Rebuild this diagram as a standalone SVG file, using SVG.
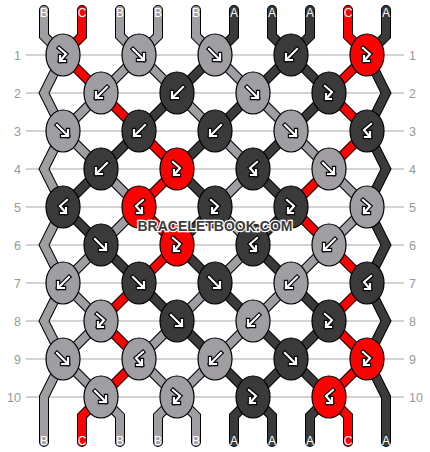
<svg xmlns="http://www.w3.org/2000/svg" width="430" height="452" viewBox="0 0 430 452">
<style>
.grid line{stroke:#c4c4c4;stroke-width:1.5}
.num{font-family:"Liberation Sans",Arial,sans-serif;font-size:12.5px;fill:#999}
.numL{text-anchor:end}
.o{fill:none;stroke:#000;stroke-width:10;stroke-linecap:round;stroke-linejoin:miter}
.f{fill:none;stroke-width:8;stroke-linecap:round;stroke-linejoin:miter}
.sA{stroke:#3a3a3a}.sB{stroke:#a09da3}.sC{stroke:#ff0000}
.k{stroke:#000;stroke-width:1.2}
.kA{fill:#3a3a3a}.kB{fill:#a09da3}.kC{fill:#ff0000}
.ao{fill:none;stroke:#000;stroke-width:4.4;stroke-linecap:square;stroke-linejoin:miter}
.ai{fill:none;stroke:#fff;stroke-width:2.2;stroke-linecap:square;stroke-linejoin:miter}
.lbl{font-family:"Liberation Sans",Arial,sans-serif;font-size:12px;fill:#fff;text-anchor:middle}
.wm{font-family:"Liberation Sans",Arial,sans-serif;font-weight:bold;font-size:14.5px;fill:#3c3c3c;stroke:#fff;stroke-width:2.5;paint-order:stroke;text-anchor:middle}
</style>
<defs>
<g id="f"><path class="ao" d="M-6,-6L5,5M5,-1L5,5L-1,5"/><path class="ai" d="M-6,-6L5,5M5,-1L5,5L-1,5"/></g>
<g id="b"><path class="ao" d="M6,-6L-5,5M-5,-1L-5,5L1,5"/><path class="ai" d="M6,-6L-5,5M-5,-1L-5,5L1,5"/></g>
<g id="fb"><path class="ao" d="M-4,-7L3,-1L-3,6M-3,1L-3,6L2,6"/><path class="ai" d="M-4,-7L3,-1L-3,6M-3,1L-3,6L2,6"/></g>
<g id="bf"><path class="ao" d="M4,-7L-3,-1L3,6M3,1L3,6L-2,6"/><path class="ai" d="M4,-7L-3,-1L3,6M3,1L3,6L-2,6"/></g>
</defs>
<rect width="430" height="452" fill="#fff"/>
<g id="grid" class="grid">
<line x1="26" y1="55" x2="404" y2="55"/><line x1="26" y1="93" x2="404" y2="93"/>
<line x1="26" y1="131" x2="404" y2="131"/><line x1="26" y1="169" x2="404" y2="169"/>
<line x1="26" y1="207" x2="404" y2="207"/><line x1="26" y1="245" x2="404" y2="245"/>
<line x1="26" y1="283" x2="404" y2="283"/><line x1="26" y1="321" x2="404" y2="321"/>
<line x1="26" y1="359" x2="404" y2="359"/><line x1="26" y1="397" x2="404" y2="397"/>
</g>
<g id="row-numbers">
<text class="num numL" x="21" y="59.5">1</text><text class="num" x="409" y="59.5">1</text>
<text class="num numL" x="21" y="97.5">2</text><text class="num" x="409" y="97.5">2</text>
<text class="num numL" x="21" y="135.5">3</text><text class="num" x="409" y="135.5">3</text>
<text class="num numL" x="21" y="173.5">4</text><text class="num" x="409" y="173.5">4</text>
<text class="num numL" x="21" y="211.5">5</text><text class="num" x="409" y="211.5">5</text>
<text class="num numL" x="21" y="249.5">6</text><text class="num" x="409" y="249.5">6</text>
<text class="num numL" x="21" y="287.5">7</text><text class="num" x="409" y="287.5">7</text>
<text class="num numL" x="21" y="325.5">8</text><text class="num" x="409" y="325.5">8</text>
<text class="num numL" x="21" y="363.5">9</text><text class="num" x="409" y="363.5">9</text>
<text class="num numL" x="21" y="401.5">10</text><text class="num" x="409" y="401.5">10</text>
</g>
<g id="connectors">
<g class="o">
<path d="M44,10V36L63,55"/><path d="M82,10V36L63,55"/><path d="M120,10V36L139,55"/><path d="M158,10V36L139,55"/><path d="M196,10V36L215,55"/><path d="M234,10V36L215,55"/><path d="M272,10V36L291,55"/><path d="M310,10V36L291,55"/><path d="M348,10V36L367,55"/><path d="M386,10V36L367,55"/>
<path d="M63,55L101,93"/><path d="M139,55L101,93"/><path d="M139,55L177,93"/><path d="M215,55L177,93"/><path d="M215,55L253,93"/><path d="M291,55L253,93"/><path d="M291,55L329,93"/><path d="M367,55L329,93"/><path d="M63,55L44,93L63,131"/><path d="M367,55L386,93L367,131"/>
<path d="M101,93L63,131"/><path d="M101,93L139,131"/><path d="M177,93L139,131"/><path d="M177,93L215,131"/><path d="M253,93L215,131"/><path d="M253,93L291,131"/><path d="M329,93L291,131"/><path d="M329,93L367,131"/>
<path d="M63,131L101,169"/><path d="M139,131L101,169"/><path d="M139,131L177,169"/><path d="M215,131L177,169"/><path d="M215,131L253,169"/><path d="M291,131L253,169"/><path d="M291,131L329,169"/><path d="M367,131L329,169"/><path d="M63,131L44,169L63,207"/><path d="M367,131L386,169L367,207"/>
<path d="M101,169L63,207"/><path d="M101,169L139,207"/><path d="M177,169L139,207"/><path d="M177,169L215,207"/><path d="M253,169L215,207"/><path d="M253,169L291,207"/><path d="M329,169L291,207"/><path d="M329,169L367,207"/>
<path d="M63,207L101,245"/><path d="M139,207L101,245"/><path d="M139,207L177,245"/><path d="M215,207L177,245"/><path d="M215,207L253,245"/><path d="M291,207L253,245"/><path d="M291,207L329,245"/><path d="M367,207L329,245"/><path d="M63,207L44,245L63,283"/><path d="M367,207L386,245L367,283"/>
<path d="M101,245L63,283"/><path d="M101,245L139,283"/><path d="M177,245L139,283"/><path d="M177,245L215,283"/><path d="M253,245L215,283"/><path d="M253,245L291,283"/><path d="M329,245L291,283"/><path d="M329,245L367,283"/>
<path d="M63,283L101,321"/><path d="M139,283L101,321"/><path d="M139,283L177,321"/><path d="M215,283L177,321"/><path d="M215,283L253,321"/><path d="M291,283L253,321"/><path d="M291,283L329,321"/><path d="M367,283L329,321"/><path d="M63,283L44,321L63,359"/><path d="M367,283L386,321L367,359"/>
<path d="M101,321L63,359"/><path d="M101,321L139,359"/><path d="M177,321L139,359"/><path d="M177,321L215,359"/><path d="M253,321L215,359"/><path d="M253,321L291,359"/><path d="M329,321L291,359"/><path d="M329,321L367,359"/>
<path d="M63,359L101,397"/><path d="M139,359L101,397"/><path d="M139,359L177,397"/><path d="M215,359L177,397"/><path d="M215,359L253,397"/><path d="M291,359L253,397"/><path d="M291,359L329,397"/><path d="M367,359L329,397"/><path d="M63,359L44,397V442"/><path d="M367,359L386,397V442"/>
<path d="M101,397L82,416V442"/><path d="M101,397L120,416V442"/><path d="M177,397L158,416V442"/><path d="M177,397L196,416V442"/><path d="M253,397L234,416V442"/><path d="M253,397L272,416V442"/><path d="M329,397L310,416V442"/><path d="M329,397L348,416V442"/>
</g>
<g class="f">
<path class="sB" d="M44,10V36L63,55"/><path class="sC" d="M82,10V36L63,55"/><path class="sB" d="M120,10V36L139,55"/><path class="sB" d="M158,10V36L139,55"/><path class="sB" d="M196,10V36L215,55"/><path class="sA" d="M234,10V36L215,55"/><path class="sA" d="M272,10V36L291,55"/><path class="sA" d="M310,10V36L291,55"/><path class="sC" d="M348,10V36L367,55"/><path class="sA" d="M386,10V36L367,55"/>
<path class="sC" d="M63,55L101,93"/><path class="sB" d="M139,55L101,93"/><path class="sB" d="M139,55L177,93"/><path class="sA" d="M215,55L177,93"/><path class="sB" d="M215,55L253,93"/><path class="sA" d="M291,55L253,93"/><path class="sA" d="M291,55L329,93"/><path class="sC" d="M367,55L329,93"/><path class="sB" d="M63,55L44,93L63,131"/><path class="sA" d="M367,55L386,93L367,131"/>
<path class="sB" d="M101,93L63,131"/><path class="sC" d="M101,93L139,131"/><path class="sA" d="M177,93L139,131"/><path class="sB" d="M177,93L215,131"/><path class="sA" d="M253,93L215,131"/><path class="sB" d="M253,93L291,131"/><path class="sA" d="M329,93L291,131"/><path class="sC" d="M329,93L367,131"/>
<path class="sB" d="M63,131L101,169"/><path class="sA" d="M139,131L101,169"/><path class="sC" d="M139,131L177,169"/><path class="sA" d="M215,131L177,169"/><path class="sB" d="M215,131L253,169"/><path class="sA" d="M291,131L253,169"/><path class="sB" d="M291,131L329,169"/><path class="sC" d="M367,131L329,169"/><path class="sB" d="M63,131L44,169L63,207"/><path class="sA" d="M367,131L386,169L367,207"/>
<path class="sA" d="M101,169L63,207"/><path class="sB" d="M101,169L139,207"/><path class="sC" d="M177,169L139,207"/><path class="sA" d="M177,169L215,207"/><path class="sB" d="M253,169L215,207"/><path class="sA" d="M253,169L291,207"/><path class="sC" d="M329,169L291,207"/><path class="sB" d="M329,169L367,207"/>
<path class="sA" d="M63,207L101,245"/><path class="sB" d="M139,207L101,245"/><path class="sC" d="M139,207L177,245"/><path class="sA" d="M215,207L177,245"/><path class="sB" d="M215,207L253,245"/><path class="sA" d="M291,207L253,245"/><path class="sC" d="M291,207L329,245"/><path class="sB" d="M367,207L329,245"/><path class="sB" d="M63,207L44,245L63,283"/><path class="sA" d="M367,207L386,245L367,283"/>
<path class="sB" d="M101,245L63,283"/><path class="sA" d="M101,245L139,283"/><path class="sC" d="M177,245L139,283"/><path class="sA" d="M177,245L215,283"/><path class="sB" d="M253,245L215,283"/><path class="sA" d="M253,245L291,283"/><path class="sB" d="M329,245L291,283"/><path class="sC" d="M329,245L367,283"/>
<path class="sB" d="M63,283L101,321"/><path class="sC" d="M139,283L101,321"/><path class="sA" d="M139,283L177,321"/><path class="sB" d="M215,283L177,321"/><path class="sA" d="M215,283L253,321"/><path class="sB" d="M291,283L253,321"/><path class="sA" d="M291,283L329,321"/><path class="sC" d="M367,283L329,321"/><path class="sB" d="M63,283L44,321L63,359"/><path class="sA" d="M367,283L386,321L367,359"/>
<path class="sB" d="M101,321L63,359"/><path class="sC" d="M101,321L139,359"/><path class="sB" d="M177,321L139,359"/><path class="sA" d="M177,321L215,359"/><path class="sB" d="M253,321L215,359"/><path class="sA" d="M253,321L291,359"/><path class="sA" d="M329,321L291,359"/><path class="sC" d="M329,321L367,359"/>
<path class="sB" d="M63,359L101,397"/><path class="sC" d="M139,359L101,397"/><path class="sB" d="M139,359L177,397"/><path class="sB" d="M215,359L177,397"/><path class="sA" d="M215,359L253,397"/><path class="sA" d="M291,359L253,397"/><path class="sA" d="M291,359L329,397"/><path class="sC" d="M367,359L329,397"/><path class="sB" d="M63,359L44,397V442"/><path class="sA" d="M367,359L386,397V442"/>
<path class="sC" d="M101,397L82,416V442"/><path class="sB" d="M101,397L120,416V442"/><path class="sB" d="M177,397L158,416V442"/><path class="sB" d="M177,397L196,416V442"/><path class="sA" d="M253,397L234,416V442"/><path class="sA" d="M253,397L272,416V442"/><path class="sA" d="M329,397L310,416V442"/><path class="sC" d="M329,397L348,416V442"/>
</g>
</g>
<g id="strand-labels">
<text class="lbl" x="44" y="16.5">B</text><text class="lbl" x="82" y="16.5">C</text><text class="lbl" x="120" y="16.5">B</text><text class="lbl" x="158" y="16.5">B</text><text class="lbl" x="196" y="16.5">B</text><text class="lbl" x="234" y="16.5">A</text><text class="lbl" x="272" y="16.5">A</text><text class="lbl" x="310" y="16.5">A</text><text class="lbl" x="348" y="16.5">C</text><text class="lbl" x="386" y="16.5">A</text>
<text class="lbl" x="44" y="444.5">B</text><text class="lbl" x="82" y="444.5">C</text><text class="lbl" x="120" y="444.5">B</text><text class="lbl" x="158" y="444.5">B</text><text class="lbl" x="196" y="444.5">B</text><text class="lbl" x="234" y="444.5">A</text><text class="lbl" x="272" y="444.5">A</text><text class="lbl" x="310" y="444.5">A</text><text class="lbl" x="348" y="444.5">C</text><text class="lbl" x="386" y="444.5">A</text>
</g>
<g id="knots">
<g id="k1-1"><ellipse class="k kB" cx="63" cy="55" rx="17" ry="21"/><use href="#fb" x="63" y="55"/></g>
<g id="k1-2"><ellipse class="k kB" cx="139" cy="55" rx="17" ry="21"/><use href="#f" x="139" y="55"/></g>
<g id="k1-3"><ellipse class="k kB" cx="215" cy="55" rx="17" ry="21"/><use href="#f" x="215" y="55"/></g>
<g id="k1-4"><ellipse class="k kA" cx="291" cy="55" rx="17" ry="21"/><use href="#b" x="291" y="55"/></g>
<g id="k1-5"><ellipse class="k kC" cx="367" cy="55" rx="17" ry="21"/><use href="#fb" x="367" y="55"/></g>
<g id="k2-1"><ellipse class="k kB" cx="101" cy="93" rx="17" ry="21"/><use href="#b" x="101" y="93"/></g>
<g id="k2-2"><ellipse class="k kA" cx="177" cy="93" rx="17" ry="21"/><use href="#b" x="177" y="93"/></g>
<g id="k2-3"><ellipse class="k kB" cx="253" cy="93" rx="17" ry="21"/><use href="#f" x="253" y="93"/></g>
<g id="k2-4"><ellipse class="k kA" cx="329" cy="93" rx="17" ry="21"/><use href="#fb" x="329" y="93"/></g>
<g id="k3-1"><ellipse class="k kB" cx="63" cy="131" rx="17" ry="21"/><use href="#f" x="63" y="131"/></g>
<g id="k3-2"><ellipse class="k kA" cx="139" cy="131" rx="17" ry="21"/><use href="#b" x="139" y="131"/></g>
<g id="k3-3"><ellipse class="k kA" cx="215" cy="131" rx="17" ry="21"/><use href="#b" x="215" y="131"/></g>
<g id="k3-4"><ellipse class="k kB" cx="291" cy="131" rx="17" ry="21"/><use href="#f" x="291" y="131"/></g>
<g id="k3-5"><ellipse class="k kA" cx="367" cy="131" rx="17" ry="21"/><use href="#bf" x="367" y="131"/></g>
<g id="k4-1"><ellipse class="k kA" cx="101" cy="169" rx="17" ry="21"/><use href="#b" x="101" y="169"/></g>
<g id="k4-2"><ellipse class="k kC" cx="177" cy="169" rx="17" ry="21"/><use href="#fb" x="177" y="169"/></g>
<g id="k4-3"><ellipse class="k kA" cx="253" cy="169" rx="17" ry="21"/><use href="#bf" x="253" y="169"/></g>
<g id="k4-4"><ellipse class="k kB" cx="329" cy="169" rx="17" ry="21"/><use href="#f" x="329" y="169"/></g>
<g id="k5-1"><ellipse class="k kA" cx="63" cy="207" rx="17" ry="21"/><use href="#bf" x="63" y="207"/></g>
<g id="k5-2"><ellipse class="k kC" cx="139" cy="207" rx="17" ry="21"/><use href="#bf" x="139" y="207"/></g>
<g id="k5-3"><ellipse class="k kA" cx="215" cy="207" rx="17" ry="21"/><use href="#fb" x="215" y="207"/></g>
<g id="k5-4"><ellipse class="k kA" cx="291" cy="207" rx="17" ry="21"/><use href="#fb" x="291" y="207"/></g>
<g id="k5-5"><ellipse class="k kB" cx="367" cy="207" rx="17" ry="21"/><use href="#fb" x="367" y="207"/></g>
<g id="k6-1"><ellipse class="k kA" cx="101" cy="245" rx="17" ry="21"/><use href="#f" x="101" y="245"/></g>
<g id="k6-2"><ellipse class="k kC" cx="177" cy="245" rx="17" ry="21"/><use href="#fb" x="177" y="245"/></g>
<g id="k6-3"><ellipse class="k kA" cx="253" cy="245" rx="17" ry="21"/><use href="#bf" x="253" y="245"/></g>
<g id="k6-4"><ellipse class="k kB" cx="329" cy="245" rx="17" ry="21"/><use href="#b" x="329" y="245"/></g>
<g id="k7-1"><ellipse class="k kB" cx="63" cy="283" rx="17" ry="21"/><use href="#b" x="63" y="283"/></g>
<g id="k7-2"><ellipse class="k kA" cx="139" cy="283" rx="17" ry="21"/><use href="#f" x="139" y="283"/></g>
<g id="k7-3"><ellipse class="k kA" cx="215" cy="283" rx="17" ry="21"/><use href="#f" x="215" y="283"/></g>
<g id="k7-4"><ellipse class="k kB" cx="291" cy="283" rx="17" ry="21"/><use href="#b" x="291" y="283"/></g>
<g id="k7-5"><ellipse class="k kA" cx="367" cy="283" rx="17" ry="21"/><use href="#bf" x="367" y="283"/></g>
<g id="k8-1"><ellipse class="k kB" cx="101" cy="321" rx="17" ry="21"/><use href="#fb" x="101" y="321"/></g>
<g id="k8-2"><ellipse class="k kA" cx="177" cy="321" rx="17" ry="21"/><use href="#f" x="177" y="321"/></g>
<g id="k8-3"><ellipse class="k kB" cx="253" cy="321" rx="17" ry="21"/><use href="#b" x="253" y="321"/></g>
<g id="k8-4"><ellipse class="k kA" cx="329" cy="321" rx="17" ry="21"/><use href="#fb" x="329" y="321"/></g>
<g id="k9-1"><ellipse class="k kB" cx="63" cy="359" rx="17" ry="21"/><use href="#f" x="63" y="359"/></g>
<g id="k9-2"><ellipse class="k kB" cx="139" cy="359" rx="17" ry="21"/><use href="#bf" x="139" y="359"/></g>
<g id="k9-3"><ellipse class="k kB" cx="215" cy="359" rx="17" ry="21"/><use href="#b" x="215" y="359"/></g>
<g id="k9-4"><ellipse class="k kA" cx="291" cy="359" rx="17" ry="21"/><use href="#f" x="291" y="359"/></g>
<g id="k9-5"><ellipse class="k kC" cx="367" cy="359" rx="17" ry="21"/><use href="#fb" x="367" y="359"/></g>
<g id="k10-1"><ellipse class="k kB" cx="101" cy="397" rx="17" ry="21"/><use href="#f" x="101" y="397"/></g>
<g id="k10-2"><ellipse class="k kB" cx="177" cy="397" rx="17" ry="21"/><use href="#fb" x="177" y="397"/></g>
<g id="k10-3"><ellipse class="k kA" cx="253" cy="397" rx="17" ry="21"/><use href="#fb" x="253" y="397"/></g>
<g id="k10-4"><ellipse class="k kC" cx="329" cy="397" rx="17" ry="21"/><use href="#bf" x="329" y="397"/></g>
</g>
<text id="watermark" class="wm" x="215" y="230.5" textLength="155" lengthAdjust="spacingAndGlyphs">BRACELETBOOK.COM</text>
</svg>
